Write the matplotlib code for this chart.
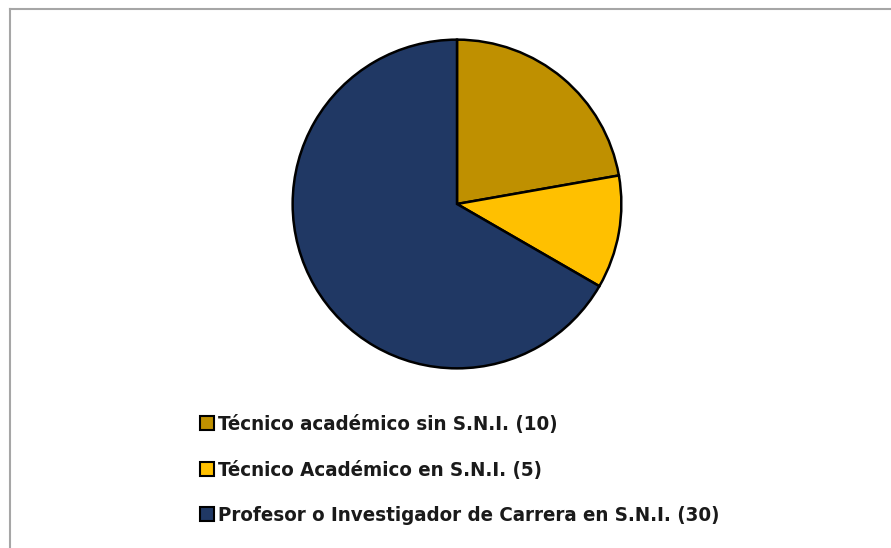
import matplotlib.pyplot as plt
from matplotlib.patches import Patch
from matplotlib.lines import Line2D

labels = [
    "Técnico académico sin S.N.I. (10)",
    "Técnico Académico en S.N.I. (5)",
    "Profesor o Investigador de Carrera en S.N.I. (30)",
]
values = [10, 5, 30]
colors = ["#BF9000", "#FFC000", "#203864"]

W, H = 891, 548
fig = plt.figure(figsize=(W / 100, H / 100), dpi=100)
fig.patch.set_facecolor("white")

# outer chart frame (top and left edges visible)
fig.add_artist(Line2D([10 / W, 1.0], [1 - 9 / H, 1 - 9 / H], color="#a6a6a6", lw=1.5))
fig.add_artist(Line2D([10 / W, 10 / W], [0.0, 1 - 9 / H], color="#a6a6a6", lw=1.5))

# pie centred at (457, 204) px, radius ~166 px
cx, cy, r = 457, 204, 166
ax = fig.add_axes([(cx - r) / W, 1 - (cy + r) / H, 2 * r / W, 2 * r / H])
ax.pie(
    values,
    colors=colors,
    startangle=90,
    counterclock=False,
    radius=1.0,
    wedgeprops=dict(edgecolor="black", linewidth=1.8),
)
ax.set_xlim(-1.01, 1.01)
ax.set_ylim(-1.01, 1.01)
ax.set_aspect("equal")
ax.axis("off")

handles = [Patch(facecolor=c, edgecolor="black", linewidth=1.5) for c in colors]
fig.legend(
    handles,
    labels,
    loc="upper left",
    bbox_to_anchor=(192 / W, 1 - 407 / H),
    frameon=False,
    prop=dict(family="DejaVu Sans", size=14.7, weight="bold", stretch="condensed"),
    handlelength=0.68,
    handleheight=0.68,
    handletextpad=0.2,
    labelspacing=1.3,
    borderaxespad=0,
)
for t in fig.legends[0].get_texts():
    t.set_color("#1a1a1a")

fig.savefig("out.png", dpi=100)
